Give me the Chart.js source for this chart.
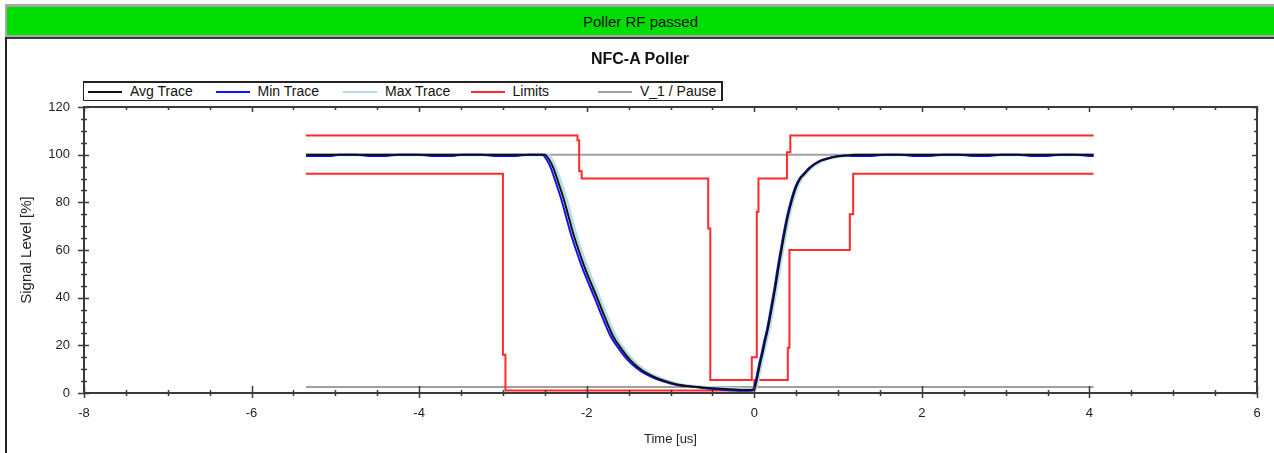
<!DOCTYPE html>
<html>
<head>
<meta charset="utf-8">
<script src="https://cdn.jsdelivr.net/npm/chart.js@4.4.1/dist/chart.umd.min.js"></script>
<style>
  html,body{margin:0;padding:0;background:#fff;width:1274px;height:453px;overflow:hidden;font-family:"Liberation Sans",Arial,sans-serif;}
  #topgray{position:absolute;left:5px;top:4px;width:1269px;height:33px;background:#a8a8a8;z-index:2;}
  #banner{position:absolute;left:7px;top:7px;width:1267px;height:28px;background:#00dd00;z-index:3;
    display:flex;align-items:center;justify-content:center;font-size:15px;color:#111;}
  #darkline{position:absolute;left:5px;top:37px;width:1269px;height:2px;background:#3a3a3a;z-index:3;}
  #leftline{position:absolute;left:5px;top:37px;width:2px;height:416px;background:#222;z-index:3;}
  #title{position:absolute;left:0;width:1280px;top:50px;text-align:center;font-weight:bold;font-size:16px;color:#111;z-index:3;}
  #legend{position:absolute;left:83px;top:81px;width:637px;height:17px;border:1px solid #222;border-width:2px 2px 1px 1px;background:#fff;z-index:3;}
  .li{position:absolute;top:0;height:17px;}
  .ls{position:absolute;top:8px;width:34px;height:2px;}
  .lt{position:absolute;top:0;left:42px;font-size:14px;line-height:17px;white-space:nowrap;color:#111;}
  canvas{position:absolute;left:0;top:0;z-index:1;}
</style>
</head>
<body>
<div id="topgray"></div>
<div id="banner">Poller RF passed</div>
<div id="darkline"></div>
<div id="leftline"></div>
<div id="title">NFC-A Poller</div>
<div id="legend"></div>
<canvas id="c" width="1274" height="453"></canvas>
<script>
// ---- data ----
const xTickLabels = ['-8','-6','-4','-2','0','2','4','6'];
const yTickLabels = ['0','20','40','60','80','100','120'];

const avgT = [-5.35,-2.5,-2.45,-2.40,-2.34,-2.28,-2.22,-2.16,-2.10,-2.04,-1.96,-1.88,-1.78,-1.68,-1.58,-1.48,-1.38,-1.28,-1.16,-1.04,-0.92,-0.80,-0.65,-0.49,-0.30,-0.09,0.0,0.02,0.05,0.07,0.10,0.13,0.16,0.20,0.25,0.30,0.35,0.40,0.45,0.50,0.55,0.60,0.67,0.79,0.90,1.0,1.1,1.2,4.05];
const avgV = [100,100,98,94.6,88.5,82,74.5,66.8,60.3,54.2,47,40.3,31.5,23.5,18.2,13.8,10.6,8.2,6.2,4.7,3.6,2.9,2.4,2.0,1.6,1.25,1.5,4,9,12.5,17,22,26.5,34,44,55,65,74,81,86.5,90,92,94.6,97.4,98.6,99.3,99.7,100,100];

const minT = [-5.35,-5.05,-4.95,-4.75,-4.6,-4.4,-4.25,-4.0,-3.85,-3.6,-3.5,-3.25,-3.1,-2.85,-2.7,-2.53,-2.48,-2.43,-2.37,-2.31,-2.25,-2.19,-2.13,-2.07,-1.99,-1.91,-1.81,-1.71,-1.61,-1.51,-1.41,-1.31,-1.19,-1.07,-0.95,-0.83,-0.68,-0.52,-0.33,-0.12,-0.03,-0.01,0.01,0.04,0.06,0.09,0.12,0.15,0.19,0.24,0.29,0.34,0.39,0.44,0.49,0.54,0.59,0.66,0.78,0.89,0.99,1.09,1.19,1.4,1.55,1.75,1.9,2.1,2.25,2.45,2.6,2.8,2.95,3.15,3.3,3.5,3.65,3.85,4.0,4.05];
const minV = [99.4,99.4,100,100,99.4,99.4,100,100,99.4,99.4,100,100,99.4,99.4,100,100,98,94.6,88.5,82,74.5,66.8,60.3,54.2,47,40.3,31.5,23.5,18.2,13.8,10.6,8.2,6.2,4.7,3.6,2.9,2.4,1.8,1.3,0.9,1.0,1.5,4,9,12.5,17,22,26.5,34,44,55,65,74,81,86.5,90,92,94.6,97.4,98.6,99.3,99.6,99.4,99.4,100,100,99.4,99.4,100,100,99.4,99.4,100,100,99.4,99.4,100,100,99.4,99.4];

const maxT = [-5.35,-2.47,-2.42,-2.37,-2.31,-2.25,-2.19,-2.13,-2.07,-2.01,-1.93,-1.85,-1.75,-1.65,-1.55,-1.45,-1.35,-1.25,-1.13,-1.01,-0.89,-0.77,-0.62,-0.46,-0.27,-0.06,0.02,0.035,0.065,0.085,0.115,0.145,0.175,0.215,0.265,0.315,0.365,0.415,0.465,0.515,0.565,0.615,0.685,0.805,0.915,1.015,1.115,1.215,4.05];
const maxV = [100,100,98,94.6,88.5,82,74.5,66.8,60.3,54.2,47,40.3,31.5,23.5,18.2,13.8,10.6,8.2,6.2,4.7,3.6,2.9,2.5,2.2,1.9,1.6,1.8,4,9,12.5,17,22,26.5,34,44,55,65,74,81,86.5,90,92,94.6,97.4,98.6,99.3,99.7,100,100];

const limUpT = [-5.35,-2.11,-2.11,-2.09,-2.09,-2.06,-2.06,-0.55,-0.55,-0.525,-0.525,-0.03,-0.03,0.03,0.03,0.05,0.05,0.39,0.39,0.43,0.43,4.05];
const limUpV = [108,108,106,106,93,93,90,90,69,69,5.5,5.5,15,15,76,76,90,90,101,101,108,108];

const limLoT = [-5.35,-3.0,-3.0,-2.97,-2.97,0.0,0.0,0.40,0.40,0.42,0.42,1.14,1.14,1.18,1.18,4.05];
const limLoV = [92,92,16,16,1.0,1.0,5.5,5.5,19,19,60,60,75,75,92,92];

const pauseT = [-5.35,4.05];
const pauseHiV = [100,100];
const pauseLoV = [2.5,2.5];

const seriesNames = ['Avg Trace','Min Trace','Max Trace','Limits','V_1 / Pause'];
const seriesColors = ['#111111','#1010ff','#b4dde8','#ff2b2b','#a0a0a0'];

// ---- build ----
function pts(T,V){return T.map((t,i)=>({x:t,y:V[i]}));}

const datasets = [
  {label:seriesNames[0], data:pts(avgT,avgV), borderColor:seriesColors[0], borderWidth:2, order:1, cubicInterpolationMode:'monotone'},
  {label:seriesNames[1], data:pts(minT,minV), borderColor:seriesColors[1], borderWidth:2, order:2, cubicInterpolationMode:'monotone'},
  {label:seriesNames[2], data:pts(maxT,maxV), borderColor:seriesColors[2], borderWidth:3, order:3, cubicInterpolationMode:'monotone'},
  {label:seriesNames[3], data:pts(limUpT,limUpV), borderColor:seriesColors[3], borderWidth:2, order:4},
  {label:seriesNames[3]+' low', data:pts(limLoT,limLoV), borderColor:seriesColors[3], borderWidth:2, order:4},
  {label:seriesNames[4], data:pts(pauseT,pauseHiV), borderColor:seriesColors[4], borderWidth:2, order:5},
  {label:seriesNames[4]+' low', data:pts(pauseT,pauseLoV), borderColor:seriesColors[4], borderWidth:2, order:5}
];
datasets.forEach(d=>{d.pointRadius=0;d.fill=false;d.showLine=true;});

// legend
const leg = document.getElementById('legend');
seriesNames.forEach((n,i)=>{
  const it=document.createElement('div'); it.className='li'; it.style.left=(4+127.5*i)+'px';
  const s=document.createElement('div'); s.className='ls'; s.style.background=seriesColors[i];
  const t=document.createElement('div'); t.className='lt'; t.textContent=n;
  it.appendChild(s); it.appendChild(t); leg.appendChild(it);
});

const frameTicks = {
  id:'frameTicks',
  afterDraw(chart){
    const {ctx, chartArea:{left,right,top,bottom}, scales:{x,y}} = chart;
    ctx.save();
    ctx.strokeStyle='#3a3a3a';
    ctx.lineWidth=1.5;
    const line=(x1,y1,x2,y2)=>{ctx.beginPath();ctx.moveTo(x1,y1);ctx.lineTo(x2,y2);ctx.stroke();};
    for (let v=x.min; v<=x.max+1e-9; v+=0.5){
      const px=Math.round(x.getPixelForValue(v))+0.5;
      const major = Math.abs(v/2-Math.round(v/2))<1e-6;
      if (major){ line(px,bottom-7,px,bottom+5); line(px,top,px,top+5);} else { line(px,bottom-3,px,bottom+3); line(px,top,px,top+3);} 
    }
    for (let v=y.min; v<=y.max+1e-9; v+=5){
      const py=Math.round(y.getPixelForValue(v))+0.5;
      const major = v%20===0;
      if (major){ line(left-6,py,left+5,py); line(right-5,py,right,py);} else { line(left-3,py,left+3,py); line(right-3,py,right,py);} 
    }
    ctx.lineWidth=2;
    ctx.strokeRect(left,top,right-left,bottom-top);
    ctx.restore();
  }
};

new Chart(document.getElementById('c'), {
  type:'line',
  data:{datasets},
  options:{
    responsive:false, animation:false, parsing:true,
    layout:{padding:{top:107,right:17,left:0,bottom:0}},
    plugins:{legend:{display:false}, title:{display:false}, tooltip:{enabled:false}},
    scales:{
      x:{type:'linear', min:-8, max:6,
        ticks:{stepSize:2, padding:13, color:'#222', maxRotation:0, autoSkip:false,
          font:{family:'Liberation Sans', size:13},
          callback:(v)=>{const i=Math.round((v+8)/2); return (Math.abs((v+8)/2-i)<1e-6)? xTickLabels[i] : '';}},
        grid:{display:false, drawTicks:false}, border:{display:false},
        title:{display:true, text:'Time [us]', color:'#222', font:{family:'Liberation Sans', size:13}, padding:{top:0,bottom:6}},
        afterFit(s){s.height=60;}
      },
      y:{type:'linear', min:0, max:120,
        ticks:{stepSize:20, padding:14, color:'#222', font:{family:'Liberation Sans', size:13},
          callback:(v)=>{const i=Math.round(v/20); return (Math.abs(v/20-i)<1e-6)? yTickLabels[i] : '';}},
        grid:{display:false, drawTicks:false}, border:{display:false},
        title:{display:true, text:'Signal Level [%]', color:'#222', font:{family:'Liberation Sans', size:15}, padding:{top:18,bottom:0}},
        afterFit(s){s.width=84;}
      }
    }
  },
  plugins:[frameTicks]
});
</script>
</body>
</html>
